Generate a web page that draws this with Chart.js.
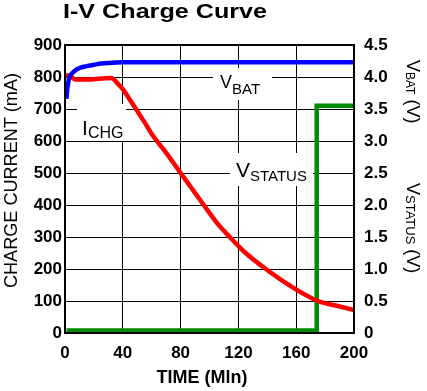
<!DOCTYPE html>
<html>
<head>
<meta charset="utf-8">
<script src="https://cdn.jsdelivr.net/npm/chart.js@4.4.1/dist/chart.umd.min.js"></script>
<style>
html,body{margin:0;padding:0;background:#fff;}
canvas{display:block;}
</style>
</head>
<body>
<canvas id="c" width="427" height="391"></canvas>
<script>
// ---- data ----
const timeChg = [0, 3, 7, 15, 25, 32, 36, 40, 44, 48, 52, 56, 60, 65, 70, 75, 80, 88, 96, 105, 114, 125, 139, 155, 175, 188, 200];
const iChg    = [805, 805, 792, 792, 795, 797, 782, 762, 735, 708, 680, 652, 622, 592, 563, 532, 500, 450, 400, 345, 300, 250, 200, 150, 100, 85, 72];

const timeBat = [1, 1.5, 2.5, 4, 7, 10, 15, 20, 25, 30, 40, 200];
const vBat    = [3.66, 3.8, 3.95, 4.03, 4.1, 4.14, 4.17, 4.19, 4.21, 4.22, 4.23, 4.23];

const timeStatus = [1, 174, 174.2, 200];
const vStatus    = [0.04, 0.04, 3.55, 3.55];

const xTickValues  = [0, 40, 80, 120, 160, 200];
const yTickValues  = [0, 100, 200, 300, 400, 500, 600, 700, 800, 900];
const y2TickValues = [0, 0.5, 1.0, 1.5, 2.0, 2.5, 3.0, 3.5, 4.0, 4.5];
const y2TickLabels = ['0', '0.5', '1.0', '1.5', '2.0', '2.5', '3.0', '3.5', '4.0', '4.5'];

const FONT = '"Liberation Sans", Arial, Helvetica, sans-serif';

function pairs(xs, ys){ return xs.map((x,i)=>({x:x, y:ys[i]})); }

function drawRich(ctx, parts, x, y){
  let cx = x;
  parts.forEach(p=>{
    ctx.font = (p.bold ? 'bold ' : '') + p.size + 'px ' + FONT;
    ctx.fillText(p.text, cx, y + (p.dy||0));
    cx += ctx.measureText(p.text).width;
  });
}

const decor = {
  id: 'decor',
  beforeDatasetsDraw(chart){
    const ctx = chart.ctx, sx = chart.scales.x, sy = chart.scales.y;
    ctx.save();
    ctx.fillStyle = '#fff';
    // knock-out boxes behind the labels
    const boxes = [
      {t:107.3, v:765.6, x0:-7, x1:52, y0:-20, y1:12},   // VBAT
      {t:11.8,  v:618.75, x0:-5, x1:44, y0:-31, y1:6},   // ICHG
      {t:118.3, v:487.5, x0:-6, x1:77, y0:-24, y1:9}     // VSTATUS
    ];
    boxes.forEach(b=>{
      const px = sx.getPixelForValue(b.t), py = sy.getPixelForValue(b.v);
      ctx.fillRect(px + b.x0, py + b.y0, b.x1 - b.x0, b.y1 - b.y0);
    });
    ctx.fillStyle = '#000';
    ctx.textBaseline = 'alphabetic';
    ctx.textAlign = 'left';
    let px = sx.getPixelForValue(107.3), py = sy.getPixelForValue(765.6);
    drawRich(ctx, [{text:'V', size:18}, {text:'BAT', size:15, dy:6}], px, py);
    px = sx.getPixelForValue(11.8); py = sy.getPixelForValue(618.75);
    drawRich(ctx, [{text:'I', size:21}, {text:'CHG', size:16, dy:3}], px, py);
    px = sx.getPixelForValue(118.3); py = sy.getPixelForValue(487.5);
    drawRich(ctx, [{text:'V', size:21}, {text:'STATUS', size:15, dy:4}], px, py);
    ctx.restore();
  },
  afterDraw(chart){
    const ctx = chart.ctx, a = chart.chartArea;
    ctx.save();
    // frame
    ctx.strokeStyle = '#000';
    ctx.lineWidth = 2;
    ctx.strokeRect(a.left, a.top, a.right - a.left, a.bottom - a.top);
    ctx.fillStyle = '#000';
    ctx.textBaseline = 'alphabetic';
    // title (stretched to match width)
    ctx.font = 'bold 20px ' + FONT;
    const title = 'I-V Charge Curve';
    const tw = ctx.measureText(title).width;
    ctx.save();
    ctx.translate(63, 18);
    ctx.scale(204 / tw, 1);
    ctx.textAlign = 'left';
    ctx.fillText(title, 0, 0);
    ctx.restore();
    // x axis title
    ctx.font = 'bold 18px ' + FONT;
    ctx.textAlign = 'center';
    ctx.fillText('TIME (Mln)', 202, 383);
    // left axis title
    ctx.save();
    ctx.font = '19px ' + FONT;
    const lt = 'CHARGE CURRENT (mA)';
    const lw = ctx.measureText(lt).width;
    ctx.translate(17, 180.5);
    ctx.rotate(-Math.PI/2);
    ctx.scale(215 / lw, 1);
    ctx.textAlign = 'center';
    ctx.fillText(lt, 0, 0);
    ctx.restore();
    // right axis titles
    ctx.save();
    ctx.translate(407, 60);
    ctx.rotate(Math.PI/2);
    ctx.textAlign = 'left';
    drawRich(ctx, [{text:'V', size:18}, {text:'BAT', size:12, dy:1}, {text:' (V)', size:18}], 0, 0);
    ctx.restore();
    ctx.save();
    ctx.translate(407, 183);
    ctx.rotate(Math.PI/2);
    ctx.textAlign = 'left';
    drawRich(ctx, [{text:'V', size:18}, {text:'STATUS', size:13, dy:1}, {text:' (V)', size:18}], 0, 0);
    ctx.restore();
    ctx.restore();
  }
};

const tickFont = {family: FONT, size: 17, weight: 'bold'};

new Chart(document.getElementById('c'), {
  type: 'line',
  data: {
    datasets: [
      {label:'VBAT', data: pairs(timeBat, vBat), yAxisID:'y2', borderColor:'#0000ff', borderWidth:4.5, pointRadius:0, cubicInterpolationMode:'monotone', fill:false},
      {label:'ICHG', data: pairs(timeChg, iChg), yAxisID:'y', borderColor:'#ff0000', borderWidth:4.5, pointRadius:0, cubicInterpolationMode:'monotone', fill:false},
      {label:'VSTATUS', data: pairs(timeStatus, vStatus), yAxisID:'y2', borderColor:'#008c00', borderWidth:4.5, pointRadius:0, tension:0, fill:false}
    ]
  },
  options: {
    responsive: false,
    animation: false,
    devicePixelRatio: 1,
    layout: {padding: {top: 45, left: 0, right: 0, bottom: 0}},
    plugins: {legend: {display:false}, title: {display:false}, tooltip: {enabled:false}},
    scales: {
      x: {
        type: 'linear', min: 0, max: 200,
        afterBuildTicks: s => { s.ticks = xTickValues.map(v=>({value:v})); },
        afterFit: s => { s.height = 58; },
        grid: {color:'#000', lineWidth:1, drawTicks:false},
        border: {display:false},
        ticks: {font: tickFont, color:'#000', padding: 10, maxRotation:0, autoSkip:false}
      },
      y: {
        type: 'linear', position: 'left', min: 0, max: 900,
        afterBuildTicks: s => { s.ticks = yTickValues.map(v=>({value:v})); },
        afterFit: s => { s.width = 65; },
        grid: {color:'#000', lineWidth:1, drawTicks:false},
        border: {display:false},
        ticks: {font: tickFont, color:'#000', padding: 3, autoSkip:false}
      },
      y2: {
        type: 'linear', position: 'right', min: 0, max: 4.5,
        afterBuildTicks: s => { s.ticks = y2TickValues.map(v=>({value:v})); },
        afterFit: s => { s.width = 73; },
        grid: {display:false, drawTicks:false},
        border: {display:false},
        ticks: {font: tickFont, color:'#000', padding: 10, autoSkip:false,
                callback: (v) => { const i = y2TickValues.indexOf(v); return i >= 0 ? y2TickLabels[i] : ''; }}
      }
    }
  },
  plugins: [decor]
});
</script>
</body>
</html>
